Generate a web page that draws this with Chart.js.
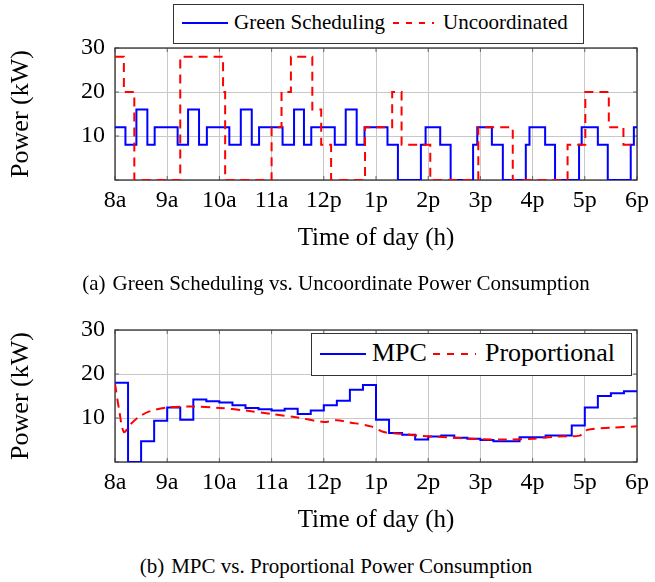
<!DOCTYPE html>
<html lang="en">
<head>
<meta charset="UTF-8" />
<title>Green Scheduling / MPC Power Consumption</title>
<style>
  body { margin: 0; background: #fff; color: #000; font-family: 'Liberation Serif', 'Times New Roman', serif; }
  #page { position: relative; width: 655px; height: 582px; overflow: hidden; background: #fff; }
  canvas { position: absolute; left: 0; }
  #chartA { top: 0; }
  #chartB { top: 282px; }
  .box { position: absolute; box-sizing: border-box; border: 1.3px solid #333; background: #fff; }
  .txt { position: absolute; line-height: 1; white-space: nowrap; }
  .sample { position: absolute; overflow: visible; }
  .cap { position: absolute; left: 0; width: 672px; text-align: center; font-size: 21px; line-height: 1; white-space: nowrap; }
</style>
</head>
<body>
<div id="page">
  <canvas id="chartA" width="655" height="265"></canvas>
  <canvas id="chartB" width="655" height="265"></canvas>

  <!-- legend (a) -->
  <div class="box" style="left:173px; top:4px; width:411px; height:40px;"></div>
  <svg class="sample" style="left:182px; top:18px;" width="46" height="10"><line x1="0" y1="5" x2="46" y2="5" stroke="#0000ff" stroke-width="2"/></svg>
  <span class="txt" style="left:234px; top:11.5px; font-size:21px;">Green Scheduling</span>
  <svg class="sample" style="left:393px; top:18px;" width="41" height="10"><line x1="0" y1="5" x2="41" y2="5" stroke="#ff0000" stroke-width="2" stroke-dasharray="6 7"/></svg>
  <span class="txt" style="left:443px; top:11.5px; font-size:21px;">Uncoordinated</span>

  <!-- legend (b) -->
  <div class="box" style="left:311px; top:333px; width:321px; height:43px;"></div>
  <svg class="sample" style="left:320px; top:349px;" width="46" height="10"><line x1="0" y1="5" x2="46" y2="5" stroke="#0000ff" stroke-width="2"/></svg>
  <span class="txt" style="left:372px; top:340px; font-size:26px;">MPC</span>
  <svg class="sample" style="left:433px; top:349px;" width="43" height="10"><line x1="0" y1="5" x2="43" y2="5" stroke="#ff0000" stroke-width="2" stroke-dasharray="7 7"/></svg>
  <span class="txt" style="left:485px; top:340px; font-size:26px;">Proportional</span>

  <div class="cap" style="top:272.5px;">(a)<span style="display:inline-block; width:7px;"></span>Green Scheduling vs. Uncoordinate Power Consumption</div>
  <div class="cap" style="top:556px;">(b)<span style="display:inline-block; width:7px;"></span>MPC vs. Proportional Power Consumption</div>
</div>

<script src="https://cdn.jsdelivr.net/npm/chart.js"></script>
<script>
  // x axis = hours after 8a
  const hourLabels = ['8a', '9a', '10a', '11a', '12p', '1p', '2p', '3p', '4p', '5p', '6p'];

  // (a) step series: time the level starts, and the level (kW)
  const greenTimes = [0, 0.20, 0.41, 0.62, 0.76, 1.20, 1.40, 1.61, 1.76, 2.19, 2.41, 2.62, 2.76,
    3.21, 3.43, 3.62, 3.76, 4.21, 4.42, 4.63, 4.78, 5.22, 5.42, 5.86, 5.95, 6.23, 6.43,
    6.86, 6.94, 7.22, 7.43, 7.87, 7.94, 8.24, 8.43, 8.89, 8.94, 9.25, 9.44, 9.88, 9.94, 10];
  const greenPower = [12, 8, 16, 8, 12, 8, 16, 8, 12, 8, 16, 8, 12,
    8, 16, 8, 12, 8, 16, 8, 12, 8, 0, 8, 12, 8, 0,
    8, 12, 8, 0, 8, 12, 8, 0, 8, 12, 8, 0, 8, 12, 12];

  const uncoordTimes = [0, 0.17, 0.37, 1.25, 2.07, 2.11, 3.00, 3.19, 3.37, 3.78, 3.95, 4.14,
    4.79, 5.31, 5.49, 6.04, 6.96, 7.62, 8.67, 9.01, 9.46, 9.74, 10];
  const uncoordPower = [28, 20, 0, 28, 20, 0, 12, 20, 28, 16, 8, 0,
    12, 20, 8, 0, 12, 0, 8, 20, 12, 8, 8];

  // (b) MPC, 15 minute steps
  const mpcTimes = [0, 0.25, 0.5, 0.75, 1, 1.25, 1.5, 1.75, 2, 2.25, 2.5, 2.75, 3, 3.25, 3.5, 3.75,
    4, 4.25, 4.5, 4.75, 5, 5.25, 5.5, 5.75, 6, 6.25, 6.5, 6.75, 7, 7.25, 7.5, 7.75,
    8, 8.25, 8.5, 8.75, 9, 9.25, 9.5, 9.75, 10];
  const mpcPower = [18, 0, 4.7, 9.4, 12.4, 9.6, 14.2, 13.8, 13.5, 12.9, 12.3, 12.0, 11.7, 12.1, 10.9, 11.7,
    12.9, 13.9, 16.4, 17.5, 9.6, 6.6, 6.2, 5.1, 5.8, 6.0, 5.5, 5.3, 5.0, 4.7, 4.7, 5.6,
    5.6, 6.0, 6.0, 8.3, 12.4, 15.0, 15.6, 16.1, 16.1];

  // (b) proportional curve
  const propTimes = [0, 0.08, 0.17, 0.3, 0.45, 0.66, 1.0, 1.5, 2.0, 2.5, 3.0, 3.5, 4.0, 4.25, 4.5,
    4.9, 5.15, 5.5, 5.8, 6.4, 7.0, 7.5, 8.0, 8.5, 8.9, 9.05, 9.5, 10];
  const propPower = [17.8, 11.8, 6.8, 8.6, 10.2, 11.5, 12.4, 12.6, 12.3, 11.7, 10.9, 10.1, 9.1, 9.5, 9.0,
    8.1, 6.8, 6.4, 6.0, 5.6, 5.2, 5.1, 5.3, 5.8, 6.0, 7.3, 7.8, 8.1];

  const pts = (ts, vs) => ts.map((t, i) => ({ x: t, y: vs[i] }));

  // box + inward tick marks like the pgfplots frame
  const framePlugin = {
    id: 'frame',
    beforeDatasetsDraw(chart) {
      const { ctx, chartArea: a, scales: { x, y } } = chart;
      ctx.save();
      ctx.strokeStyle = '#666';
      ctx.lineWidth = 1;
      ctx.beginPath();
      x.ticks.forEach(t => {
        const px = x.getPixelForValue(t.value);
        ctx.moveTo(px, a.bottom); ctx.lineTo(px, a.bottom - 4);
        ctx.moveTo(px, a.top); ctx.lineTo(px, a.top + 4);
      });
      y.ticks.forEach(t => {
        const py = y.getPixelForValue(t.value);
        ctx.moveTo(a.left, py); ctx.lineTo(a.left + 4, py);
        ctx.moveTo(a.right, py); ctx.lineTo(a.right - 4, py);
      });
      ctx.stroke();
      ctx.strokeStyle = '#333';
      ctx.lineWidth = 1.3;
      ctx.strokeRect(a.left, a.top, a.right - a.left, a.bottom - a.top);
      ctx.restore();
    }
  };

  function makeChart(id, datasets) {
    return new Chart(document.getElementById(id), {
      type: 'line',
      data: { datasets },
      options: {
        responsive: false,
        animation: false,
        layout: { padding: { top: 48, right: 13, left: 0, bottom: 0 } },
        plugins: { legend: { display: false }, tooltip: { enabled: false } },
        scales: {
          x: {
            type: 'linear', min: 0, max: 10,
            afterFit: s => { s.height = 85; },
            grid: { color: '#c8c8c8', lineWidth: 1, drawTicks: false },
            border: { display: false },
            ticks: {
              stepSize: 1, autoSkip: false, maxRotation: 0, padding: 6,
              color: '#000', font: { family: 'Liberation Serif', size: 24 },
              callback: v => hourLabels[v]
            },
            title: {
              display: true, text: 'Time of day (h)', color: '#000',
              font: { family: 'Liberation Serif', size: 25 },
              padding: { top: 0, bottom: 11.6 }
            }
          },
          y: {
            min: 0, max: 30,
            afterFit: s => { s.width = 115; },
            grid: { color: '#c8c8c8', lineWidth: 1, drawTicks: false },
            border: { display: false },
            ticks: {
              stepSize: 10, padding: 10,
              color: '#000', font: { family: 'Liberation Serif', size: 24 },
              callback: v => (v === 0 ? '' : v)
            },
            title: {
              display: true, text: 'Power (kW)', color: '#000',
              font: { family: 'Liberation Serif', size: 26 },
              padding: { top: 5.4, bottom: 0 }
            }
          }
        }
      },
      plugins: [framePlugin]
    });
  }

  makeChart('chartA', [
    { label: 'Green Scheduling', data: pts(greenTimes, greenPower), stepped: 'before',
      borderColor: '#0000ff', borderWidth: 2, pointRadius: 0, fill: false, order: 1 },
    { label: 'Uncoordinated', data: pts(uncoordTimes, uncoordPower), stepped: 'before',
      borderColor: '#ff0000', borderWidth: 2, borderDash: [9, 6], pointRadius: 0, fill: false, order: 0 }
  ]);

  makeChart('chartB', [
    { label: 'MPC', data: pts(mpcTimes, mpcPower), stepped: 'before',
      borderColor: '#0000ff', borderWidth: 2, pointRadius: 0, fill: false, order: 1 },
    { label: 'Proportional', data: pts(propTimes, propPower), tension: 0.3,
      borderColor: '#ff0000', borderWidth: 2, borderDash: [9, 6], pointRadius: 0, fill: false, order: 0 }
  ]);
</script>
</body>
</html>
